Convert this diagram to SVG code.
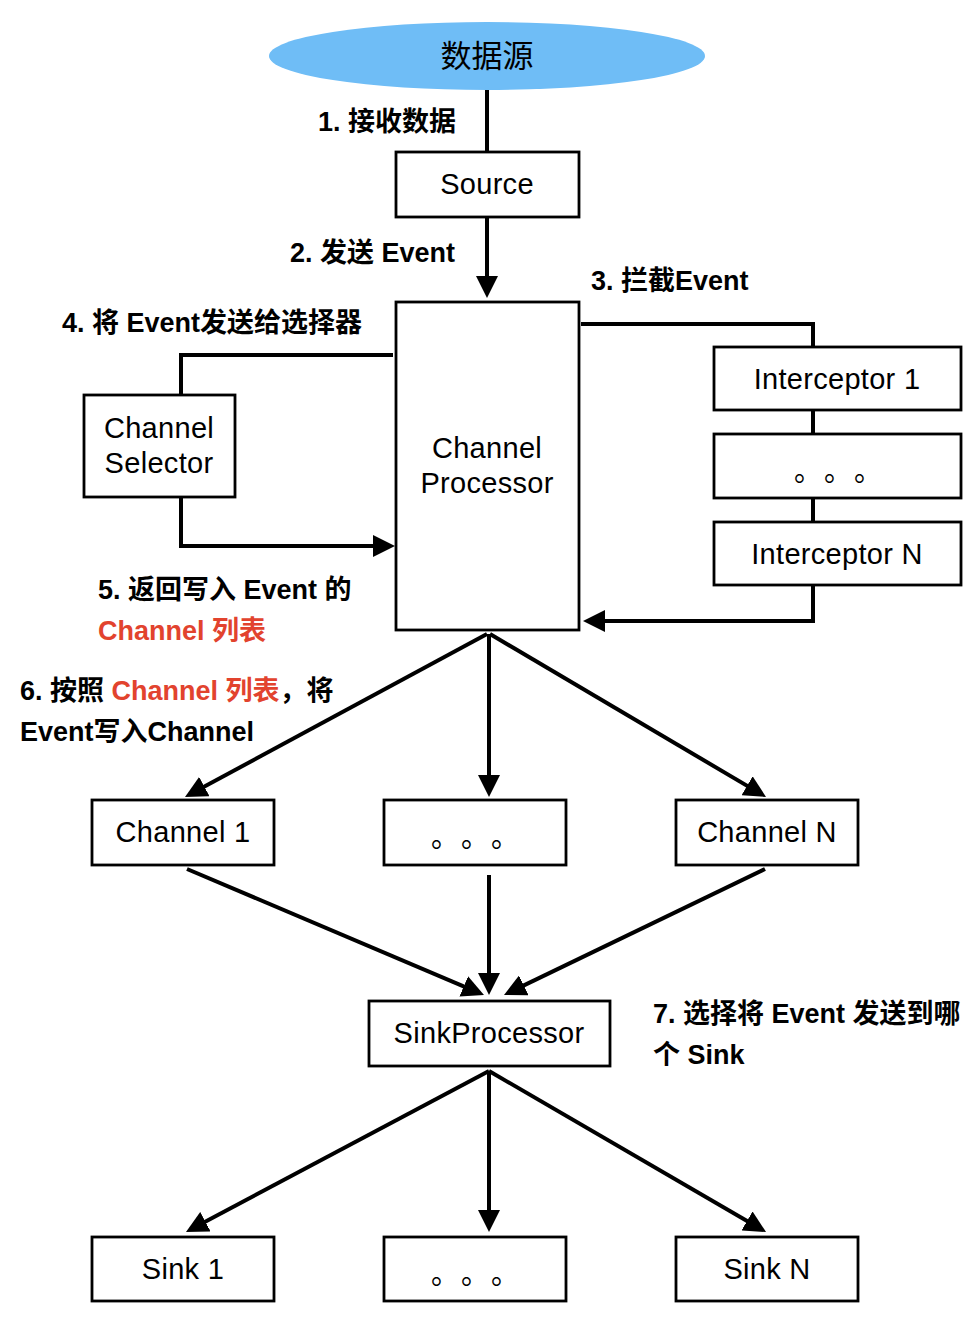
<svg xmlns="http://www.w3.org/2000/svg" width="980" height="1334" viewBox="0 0 980 1334">
<style>
.box{fill:#fff;stroke:#000;stroke-width:2.8}
.t{font-family:"Liberation Sans","Noto Sans CJK SC",sans-serif;font-size:29px;letter-spacing:0.3px;fill:#000;text-anchor:middle}
.lb{font-family:"Liberation Sans","Noto Sans CJK SC",sans-serif;font-size:27px;font-weight:bold;fill:#000}
.red{fill:#e2432e}
.dots{font-family:"Noto Sans CJK SC",sans-serif;font-size:28px;fill:#000}
.c{fill:none;stroke:#000;stroke-width:4}
</style>
<defs>
<marker id="ah" markerUnits="userSpaceOnUse" markerWidth="22" markerHeight="22" refX="12" refY="11" orient="auto">
<path d="M0,0 L22,11 L0,22 z" fill="#000"/>
</marker>
</defs>
<rect width="980" height="1334" fill="#fff"/>
<g id="connectors">
<line class="c" x1="487" y1="88" x2="487" y2="152"/>
<line class="c" x1="487" y1="218" x2="487" y2="288" marker-end="url(#ah)"/>
<polyline class="c" points="581,324 813,324 813,347"/>
<line class="c" x1="813" y1="410" x2="813" y2="434"/>
<line class="c" x1="813" y1="498" x2="813" y2="522"/>
<polyline class="c" points="813,585 813,621 593,621" marker-end="url(#ah)"/>
<polyline class="c" points="393,355 181,355 181,395"/>
<polyline class="c" points="181,497 181,546 385,546" marker-end="url(#ah)"/>
<line class="c" x1="487" y1="634" x2="193.8" y2="792.3" marker-end="url(#ah)"/>
<line class="c" x1="489" y1="634" x2="489" y2="787" marker-end="url(#ah)"/>
<line class="c" x1="490" y1="634" x2="757.4" y2="791.9" marker-end="url(#ah)"/>
<line class="c" x1="187" y1="869" x2="474.8" y2="991.1" marker-end="url(#ah)"/>
<line class="c" x1="489" y1="875" x2="489" y2="985" marker-end="url(#ah)"/>
<line class="c" x1="765" y1="869" x2="513" y2="990.6" marker-end="url(#ah)"/>
<line class="c" x1="489" y1="1071" x2="194.8" y2="1227.3" marker-end="url(#ah)"/>
<line class="c" x1="489" y1="1071" x2="489" y2="1222" marker-end="url(#ah)"/>
<line class="c" x1="489" y1="1071" x2="757.4" y2="1227" marker-end="url(#ah)"/>
</g>
<g id="datasource">
<ellipse cx="487" cy="56" rx="218" ry="34" fill="#6fbdf6"/>
<text class="t" x="487" y="67" style="font-size:31px;letter-spacing:0">数据源</text>
</g>
<g id="source">
<rect class="box" x="396" y="152" width="183" height="65"/>
<text class="t" x="487" y="194">Source</text>
</g>
<g id="channel-processor">
<rect class="box" x="396" y="302" width="183" height="328"/>
<text class="t" x="487" y="458">Channel</text>
<text class="t" x="487" y="493">Processor</text>
</g>
<g id="interceptor-1">
<rect class="box" x="714" y="347" width="247" height="63"/>
<text class="t" x="837" y="389">Interceptor 1</text>
</g>
<g id="interceptor-dots">
<rect class="box" x="714" y="434" width="247" height="64"/>
<text class="dots" x="794 824 854" y="481">。。。</text>
</g>
<g id="interceptor-n">
<rect class="box" x="714" y="522" width="247" height="63"/>
<text class="t" x="837" y="564">Interceptor N</text>
</g>
<g id="channel-selector">
<rect class="box" x="84" y="395" width="151" height="102"/>
<text class="t" x="159" y="438">Channel</text>
<text class="t" x="159" y="473">Selector</text>
</g>
<g id="channel-1">
<rect class="box" x="92" y="800" width="182" height="65"/>
<text class="t" x="183" y="842">Channel 1</text>
</g>
<g id="channel-dots">
<rect class="box" x="384" y="800" width="182" height="65"/>
<text class="dots" x="431 461 491" y="847">。。。</text>
</g>
<g id="channel-n">
<rect class="box" x="676" y="800" width="182" height="65"/>
<text class="t" x="767" y="842">Channel N</text>
</g>
<g id="sink-processor">
<rect class="box" x="369" y="1001" width="241" height="65"/>
<text class="t" x="489" y="1043">SinkProcessor</text>
</g>
<g id="sink-1">
<rect class="box" x="92" y="1237" width="182" height="64"/>
<text class="t" x="183" y="1279">Sink 1</text>
</g>
<g id="sink-dots">
<rect class="box" x="384" y="1237" width="182" height="64"/>
<text class="dots" x="431 461 491" y="1284">。。。</text>
</g>
<g id="sink-n">
<rect class="box" x="676" y="1237" width="182" height="64"/>
<text class="t" x="767" y="1279">Sink N</text>
</g>
<g id="labels">
<text class="lb" x="318" y="131">1. 接收数据</text>
<text class="lb" x="290" y="262">2. 发送 Event</text>
<text class="lb" x="591" y="290">3. 拦截Event</text>
<text class="lb" x="62" y="332">4. 将 Event发送给选择器</text>
<text class="lb" x="98" y="599">5. 返回写入 Event 的</text>
<text class="lb red" x="98" y="640">Channel 列表</text>
<text class="lb" x="20" y="700">6. 按照 <tspan class="red">Channel 列表</tspan>，将</text>
<text class="lb" x="20" y="741">Event写入Channel</text>
<text class="lb" x="653" y="1023">7. 选择将 Event 发送到哪</text>
<text class="lb" x="653" y="1064">个 Sink</text>
</g>
</svg>
